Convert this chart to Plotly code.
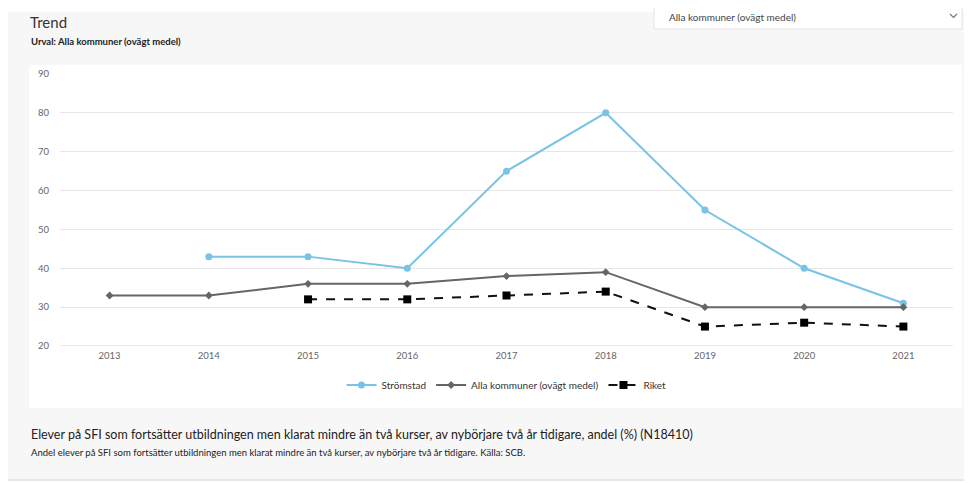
import plotly.graph_objects as go

# ── Data ────────────────────────────────────────────────────────
years = [2013, 2014, 2015, 2016, 2017, 2018, 2019, 2020, 2021]
stromstad = [None, 43, 43, 40, 65, 80, 55, 40, 31]
alla_kommuner = [33, 33, 36, 36, 38, 39, 30, 30, 30]
riket = [None, None, 32, 32, 33, 34, 25, 26, 25]
y_ticks = [20, 30, 40, 50, 60, 70, 80, 90]

# page body has an 8px margin, so work in shifted pixel coords
OFF = 8
W, H = 972 - OFF, 483 - OFF
L, R, T, B = 60 - OFF, 953 - OFF, 74 - OFF, 346 - OFF   # plot area
FONT = "Lato, 'Open Sans', sans-serif"


def px(x):
    return (x - OFF - L) / (R - L)


def py(y):
    return (B - (y - OFF)) / (B - T)


fig = go.Figure()

fig.add_trace(go.Scatter(
    x=years, y=stromstad, name='Strömstad', mode='lines+markers',
    line=dict(color='#79c3e6', width=2),
    marker=dict(symbol='circle', size=7, color='#79c3e6'),
    connectgaps=False
))
fig.add_trace(go.Scatter(
    x=years, y=alla_kommuner, name='Alla kommuner (ovägt medel)', mode='lines+markers',
    line=dict(color='#666666', width=2),
    marker=dict(symbol='diamond', size=6, color='#666666')
))
fig.add_trace(go.Scatter(
    x=years, y=riket, name='Riket', mode='lines+markers',
    line=dict(color='#111111', width=2, dash='dash'),
    marker=dict(symbol='square', size=8, color='#000000')
))

# ── Background panels ───────────────────────────────────────────
shapes = [
    dict(type='rect', xref='paper', yref='paper', layer='below',
         x0=px(7), x1=px(975), y0=py(480), y1=py(12),
         fillcolor='#f7f7f7', line=dict(width=0)),
    dict(type='line', xref='paper', yref='paper', layer='below',
         x0=px(7), x1=px(975), y0=py(480), y1=py(480),
         line=dict(color='#e8e8e8', width=2)),
    dict(type='rect', xref='paper', yref='paper', layer='below',
         x0=px(29), x1=px(962), y0=py(408), y1=py(65),
         fillcolor='#ffffff', line=dict(width=0)),
    dict(type='rect', xref='paper', yref='paper', layer='above',
         x0=px(654), x1=px(962), y0=py(29), y1=py(3),
         fillcolor='#ffffff', line=dict(color='#e4e4e4', width=1)),
    # dropdown chevron
    dict(type='path', xref='paper', yref='paper', layer='above',
         path=f'M {px(950)},{py(14)} L {px(953.5)},{py(17.5)} L {px(957)},{py(14)}',
         line=dict(color='#777777', width=1.2)),
]

annotations = [
    dict(text='Trend', x=px(28), y=py(22), xref='paper', yref='paper',
         xanchor='left', yanchor='middle', showarrow=False,
         font=dict(size=15, color='#333333', family=FONT)),
    dict(text='<b>Urval: Alla kommuner (ovägt medel)</b>', x=px(29), y=py(42),
         xref='paper', yref='paper', xanchor='left', yanchor='middle', showarrow=False,
         font=dict(size=9.5, color='#222222', family=FONT)),
    dict(text='Alla kommuner (ovägt medel)', x=px(667), y=py(17), xref='paper', yref='paper',
         xanchor='left', yanchor='middle', showarrow=False,
         font=dict(size=10, color='#444444', family=FONT)),
    dict(text='Elever på SFI som fortsätter utbildningen men klarat mindre än två kurser, '
              'av nybörjare två år tidigare, andel (%) (N18410)',
         x=px(29), y=py(434), xref='paper', yref='paper',
         xanchor='left', yanchor='middle', showarrow=False,
         font=dict(size=12.5, color='#222222', family=FONT)),
    dict(text='Andel elever på SFI som fortsätter utbildningen men klarat mindre än två kurser, '
              'av nybörjare två år tidigare. Källa: SCB.',
         x=px(29), y=py(452), xref='paper', yref='paper',
         xanchor='left', yanchor='middle', showarrow=False,
         font=dict(size=9.5, color='#222222', family=FONT)),
]

fig.update_layout(
    width=W, height=H,
    margin=dict(l=L, r=W - R, t=T, b=H - B, pad=0),
    paper_bgcolor='#ffffff',
    plot_bgcolor='#ffffff',
    font=dict(family=FONT, size=10, color='#666666'),
    shapes=shapes,
    annotations=annotations,
    showlegend=True,
    legend=dict(orientation='h', x=0.5, xanchor='center', y=py(385), yanchor='middle',
                font=dict(size=10, color='#333333'), bgcolor='rgba(0,0,0,0)',
                itemwidth=30),
    xaxis=dict(range=[2012.5, 2021.5], tickmode='array', tickvals=years,
               showgrid=False, zeroline=False, showline=False, ticks='',
               tickfont=dict(size=9.5, color='#666666'), ticklabelstandoff=2),
    yaxis=dict(range=[20, 90], tickmode='array', tickvals=y_ticks,
               showgrid=True, gridcolor='#e6e6e6', gridwidth=1, zeroline=False,
               showline=False, ticks='', tickfont=dict(size=9.5, color='#666666'),
               ticklabelstandoff=10),
)

# axis line at the bottom (light blue)
fig.add_shape(type='line', xref='paper', yref='y', x0=0, x1=1, y0=20, y1=20,
              line=dict(color='#ccd6eb', width=1), layer='below')

fig.write_html("out.html")
